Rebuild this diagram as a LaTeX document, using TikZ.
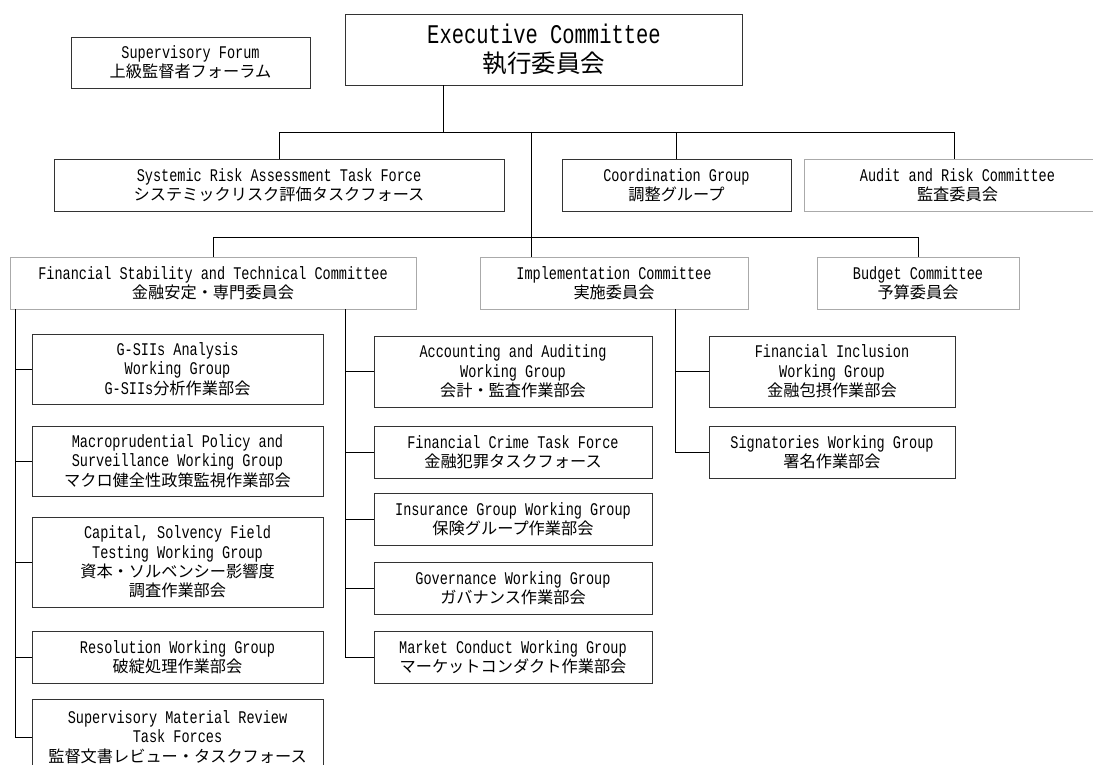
\documentclass[tikz,border=0pt]{standalone}
\usepackage{fontspec}
\setmainfont{Liberation Mono}[FakeStretch=0.76, Scale=1.1]
\newfontfamily\jp{Noto Sans CJK JP}
\definecolor{boxline}{HTML}{333333}
\definecolor{paleline}{HTML}{AAAAAA}

\begin{document}
\begin{tikzpicture}[x=1pt, y=-1pt, line width=0.8pt,
  box/.style={draw=boxline, align=center, inner sep=0pt, font=\fontsize{16.2}{19.3}\selectfont},
  palebox/.style={box, draw=paleline}]
  \clip (0,0) rectangle (1093,765);

  \node[box, minimum width=239, minimum height=51] (forum) at (190.5,62.5) {Supervisory Forum\\{\jp 上級監督者フォーラム}};
  \node[box, font=\fontsize{24.5}{29}\selectfont, minimum width=397, minimum height=71] (exec) at (544,49.5) {Executive Committee\\{\jp 執行委員会}};

  \node[box, minimum width=450, minimum height=52] (sys) at (279,185) {Systemic Risk Assessment Task Force\\{\jp システミックリスク評価タスクフォース}};
  \node[box, minimum width=229, minimum height=52] (coord) at (676.5,185) {Coordination Group\\{\jp 調整グループ}};
  \node[palebox, minimum width=307, minimum height=52] (audit) at (957.5,185) {Audit and Risk Committee\\{\jp 監査委員会}};

  \node[palebox, minimum width=406, minimum height=52] (fs) at (213,283) {Financial Stability and Technical Committee\\{\jp 金融安定・専門委員会}};
  \node[palebox, minimum width=268, minimum height=52] (impl) at (614,283) {Implementation Committee\\{\jp 実施委員会}};
  \node[palebox, minimum width=202, minimum height=52] (budget) at (918,283) {Budget Committee\\{\jp 予算委員会}};

  \node[box, minimum width=291, minimum height=70] (gsii) at (177.5,369) {G-SIIs Analysis\\Working Group\\G-SIIs{\jp 分析作業部会}};
  \node[box, minimum width=291, minimum height=70] (macro) at (177.5,461) {Macroprudential Policy and\\Surveillance Working Group\\{\jp マクロ健全性政策監視作業部会}};
  \node[box, minimum width=291, minimum height=90] (capital) at (177.5,562) {Capital, Solvency Field\\Testing Working Group\\{\jp 資本・ソルベンシー影響度}\\{\jp 調査作業部会}};
  \node[box, minimum width=291, minimum height=52] (resol) at (177.5,657) {Resolution Working Group\\{\jp 破綻処理作業部会}};
  \node[box, minimum width=291, minimum height=76] (supmat) at (177.5,737) {Supervisory Material Review\\Task Forces\\{\jp 監督文書レビュー・タスクフォース}};

  \node[box, minimum width=278, minimum height=71] (acc) at (513,371.5) {Accounting and Auditing\\Working Group\\{\jp 会計・監査作業部会}};
  \node[box, minimum width=278, minimum height=52] (crime) at (513,452) {Financial Crime Task Force\\{\jp 金融犯罪タスクフォース}};
  \node[box, minimum width=278, minimum height=52] (ins) at (513,519) {Insurance Group Working Group\\{\jp 保険グループ作業部会}};
  \node[box, minimum width=278, minimum height=52] (gov) at (513,588) {Governance Working Group\\{\jp ガバナンス作業部会}};
  \node[box, minimum width=278, minimum height=52] (market) at (513,657) {Market Conduct Working Group\\{\jp マーケットコンダクト作業部会}};

  \node[box, minimum width=246, minimum height=71] (incl) at (832,371.5) {Financial Inclusion\\Working Group\\{\jp 金融包摂作業部会}};
  \node[box, minimum width=246, minimum height=52] (sign) at (832,452) {Signatories Working Group\\{\jp 署名作業部会}};

  \coordinate (top) at (443,132);
  \coordinate (topr) at (954,132);
  \coordinate (mid) at (531,132);
  \coordinate (low) at (918,237);
  \coordinate (c1) at (15,0);
  \coordinate (c2) at (345,0);
  \coordinate (c3) at (675,0);

  \draw (exec.south -| top) -- (top);
  \draw (sys.north) |- (topr) -- (audit.north -| topr);
  \draw (coord.north) -- (coord.north |- topr);
  \draw (mid) -- (impl.north -| mid);
  \draw (fs.north) |- (low) -- (budget.north);

  \draw (fs.south -| c1) |- (supmat.west);
  \foreach \n in {gsii,macro,capital,resol} \draw (\n.west) -- (\n.west -| c1);
  \draw (fs.south -| c2) |- (market.west);
  \foreach \n in {acc,crime,ins,gov} \draw (\n.west) -- (\n.west -| c2);
  \draw (impl.south -| c3) |- (sign.west);
  \draw (incl.west) -- (incl.west -| c3);
\end{tikzpicture}
\end{document}
